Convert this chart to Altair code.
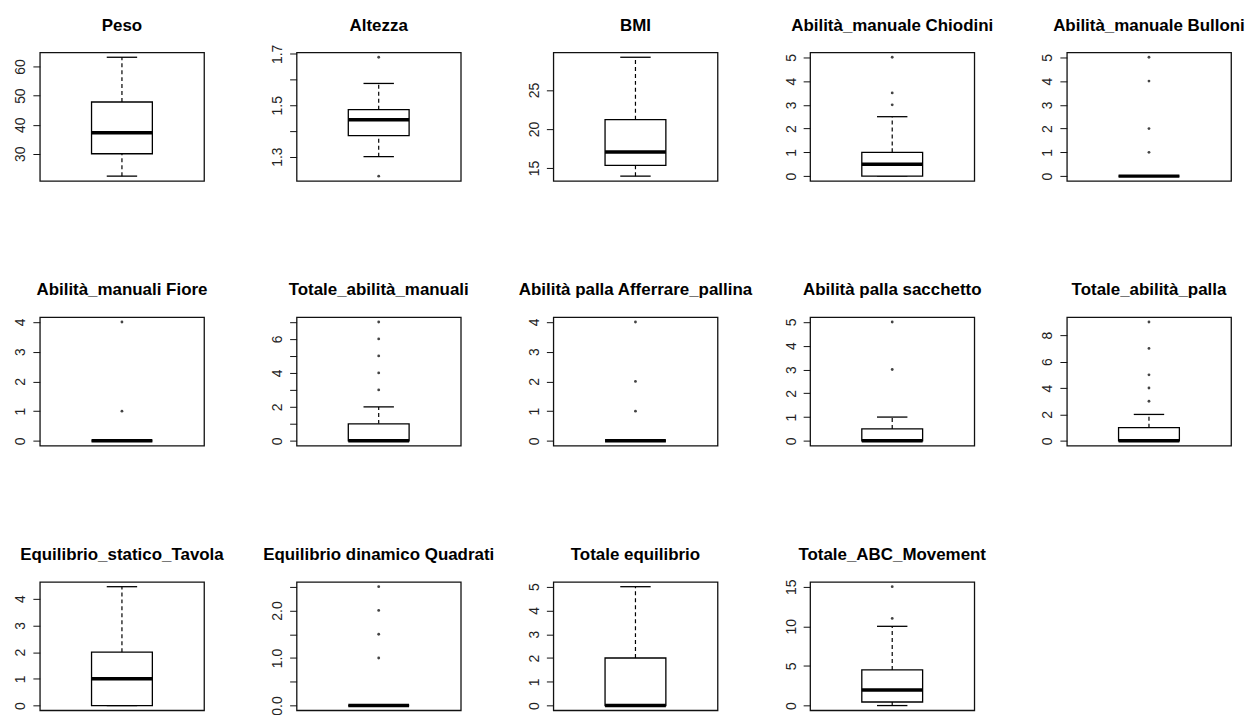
import altair as alt
import pandas as pd

names = ["Peso", "Altezza", "BMI", "Abilità_manuale Chiodini", "Abilità_manuale Bulloni",
         "Abilità_manuali Fiore", "Totale_abilità_manuali", "Abilità palla Afferrare_pallina",
         "Abilità palla sacchetto", "Totale_abilità_palla",
         "Equilibrio_statico_Tavola", "Equilibrio dinamico Quadrati", "Totale equilibrio",
         "Totale_ABC_Movement"]
whisk_lo = [22.3, 1.30, 13.97, 0, 0, 0, 0, 0, 0, 0, 0, 0, 0, 0]
q1 = [30.0, 1.382, 15.35, 0, 0, 0, 0, 0, 0, 0, 0, 0, 0, 0.45]
med = [37.2, 1.444, 17.06, 0.5, 0, 0, 0, 0, 0, 0, 1, 0, 0, 1.95]
q3 = [47.8, 1.483, 21.2, 1, 0, 0, 1, 0, 0.5, 1, 2, 0, 2, 4.5]
whisk_hi = [63.2, 1.585, 29.2, 2.5, 0, 0, 2, 0, 1, 2, 4.45, 0, 5, 10]
outliers = [[], [1.224, 1.687], [], [3, 3.5, 5], [1, 2, 4, 5], [1, 4], [3, 4, 5, 6, 7],
            [1, 2, 4], [3, 5], [3, 4, 5, 7, 9], [], [1, 1.5, 2, 2.5], [], [11, 15]]
tick_values = [[30, 40, 50, 60], [1.3, 1.4, 1.5, 1.6, 1.7], [15, 20, 25], [0, 1, 2, 3, 4, 5],
               [0, 1, 2, 3, 4, 5], [0, 1, 2, 3, 4], [0, 1, 2, 3, 4, 5, 6, 7], [0, 1, 2, 3, 4],
               [0, 1, 2, 3, 4, 5], [0, 2, 4, 6, 8], [0, 1, 2, 3, 4], [0, 0.5, 1, 1.5, 2, 2.5],
               [0, 1, 2, 3, 4, 5], [0, 5, 10, 15]]
tick_labels = [["30", "40", "50", "60"], ["1.3", "", "1.5", "", "1.7"], ["15", "20", "25"],
               ["0", "1", "2", "3", "4", "5"], ["0", "1", "2", "3", "4", "5"],
               ["0", "1", "2", "3", "4"], ["0", "", "2", "", "4", "", "6", ""],
               ["0", "1", "2", "3", "4"], ["0", "1", "2", "3", "4", "5"],
               ["0", "2", "4", "6", "8"], ["0", "1", "2", "3", "4"],
               ["0.0", "", "1.0", "", "2.0", ""], ["0", "1", "2", "3", "4", "5"],
               ["0", "5", "10", "15"]]

FONT = "Liberation Sans"
W, H = 165, 129


def label_expr(vals, labs):
    parts = [f"datum.value == {v} ? '{l}'" for v, l in zip(vals, labs)]
    return " : ".join(parts) + " : ''"


def panel(i):
    vals = [whisk_lo[i], whisk_hi[i]] + outliers[i]
    lo_all, hi_all = min(vals), max(vals)
    r = hi_all - lo_all
    dom = [lo_all - 0.04 * r, hi_all + 0.04 * r]
    stats = pd.DataFrame({"pos": [1.0], "lo": [whisk_lo[i]], "q1": [q1[i]], "med": [med[i]],
                          "q3": [q3[i]], "hi": [whisk_hi[i]]})
    base = alt.Chart(stats).transform_calculate(
        bl="datum.pos - 0.2", br="datum.pos + 0.2",
        cl="datum.pos - 0.1", cr="datum.pos + 0.1")
    xs = alt.Scale(domain=[0.46, 1.54], nice=False, zero=False)
    ys = alt.Scale(domain=dom, nice=False, zero=False)
    yaxis = alt.Axis(values=tick_values[i], labelExpr=label_expr(tick_values[i], tick_labels[i]),
                     labelAngle=270, labelAlign="center", labelBaseline="bottom",
                     labelFontSize=14, labelFont=FONT, labelColor="#222",
                     tickSize=7, tickColor="#111", tickWidth=1, labelPadding=5,
                     domain=False, grid=False, title=None, labelOverlap=False)

    def Y(f):
        return alt.Y(f, type="quantitative", scale=ys, axis=yaxis)

    up = base.mark_rule(strokeDash=[4, 3], color="black", strokeWidth=1.2).encode(
        x=alt.X("pos:Q", scale=xs, axis=None), y=Y("q3"), y2="hi:Q")
    down = base.mark_rule(strokeDash=[4, 3], color="black", strokeWidth=1.2).encode(
        x=alt.X("pos:Q", scale=xs, axis=None), y=Y("lo"), y2="q1:Q")
    cap_hi = base.mark_rule(color="black", strokeWidth=1.3).encode(
        x=alt.X("cl:Q", scale=xs, axis=None), x2="cr:Q", y=Y("hi"))
    cap_lo = base.mark_rule(color="black", strokeWidth=1.3).encode(
        x=alt.X("cl:Q", scale=xs, axis=None), x2="cr:Q", y=Y("lo"))
    box = base.mark_rect(fill="white", stroke="black", strokeWidth=1.3).encode(
        x=alt.X("bl:Q", scale=xs, axis=None), x2="br:Q", y=Y("q1"), y2="q3:Q")
    median = base.mark_rule(color="black", strokeWidth=3.5).encode(
        x=alt.X("bl:Q", scale=xs, axis=None), x2="br:Q", y=Y("med"))
    layers = [up, down, cap_hi, cap_lo, box, median]
    if outliers[i]:
        od = pd.DataFrame({"pos": [1.0] * len(outliers[i]), "v": outliers[i]})
        pts = alt.Chart(od).mark_circle(size=8, color="#444", opacity=1).encode(
            x=alt.X("pos:Q", scale=xs, axis=None), y=Y("v"))
        layers.append(pts)
    title = alt.Chart(pd.DataFrame({"t": [names[i]]})).mark_text(
        font=FONT, fontSize=17, fontWeight="bold", color="black",
        align="center", baseline="alphabetic").encode(
        text="t:N", x=alt.value(W / 2), y=alt.value(-22))
    layers.append(title)
    return alt.layer(*layers).properties(width=W, height=H)


chart = alt.concat(*[panel(i) for i in range(len(names))], columns=5,
                   spacing={"row": 137, "column": 93}, bounds="flush").properties(
    padding={"left": 5, "top": 6, "right": 0, "bottom": 0}
).configure_view(stroke="#111", strokeWidth=1.3)

chart.save("out.html", embed_options={"renderer": "svg", "actions": False})
